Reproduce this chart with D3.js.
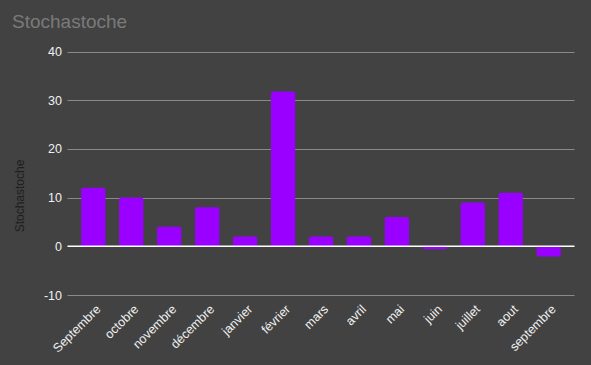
<!DOCTYPE html>
<meta charset="utf-8">
<style>
body { margin: 0; background: #424242; }
svg { display: block; font-family: Arial, "Liberation Sans", sans-serif; }
.axis path, .axis line { display: none; }
</style>
<svg width="591" height="365"></svg>
<script src="https://d3js.org/d3.v7.min.js"></script>
<script>

var months = ["Septembre", "octobre", "novembre", "décembre", "janvier", "février",
              "mars", "avril", "mai", "juin", "juillet", "aout", "septembre"];
var values = [12, 10, 4, 8, 2, 31.8, 2, 2, 6, -0.6, 9, 11, -2.1];
var yTicks = [-10, 0, 10, 20, 30, 40];

var svg = d3.select("svg");

svg.append("rect")
    .attr("width", 591).attr("height", 365)
    .attr("fill", "#424242");

var x = d3.scaleBand()
    .domain(months)
    .range([67.5, 574.5])
    .paddingInner(0.36)
    .paddingOuter(0.36);

var y = d3.scaleLinear()
    .domain([-10, 40])
    .range([295, 51.5]);

// title
svg.append("text")
    .attr("x", 12).attr("y", 28)
    .attr("fill", "#7a7a7a")
    .attr("font-size", 19)
    .text("Stochastoche");

// gridlines
svg.append("g").selectAll("line")
  .data(yTicks.filter(function(d) { return d !== 0; }))
  .enter().append("line")
    .attr("x1", 67.5).attr("x2", 574.5)
    .attr("y1", function(d) { return Math.round(y(d)) + 0.5; })
    .attr("y2", function(d) { return Math.round(y(d)) + 0.5; })
    .attr("stroke", "#8a8a8a")
    .attr("stroke-width", 1);

// y axis labels
var yAxis = svg.append("g")
    .attr("class", "axis axis--y")
    .attr("transform", "translate(67,0)")
    .call(d3.axisLeft(y).tickValues(yTicks).tickSize(0).tickPadding(5)
      .tickFormat(function(d) { return String(d); }));
yAxis.selectAll("text")
    .attr("fill", "#f0f0f0")
    .attr("font-size", 12.5)
    .attr("font-family", "Arial, 'Liberation Sans', sans-serif");

// y axis title
svg.append("text")
    .attr("transform", "translate(24," + 196 + ") rotate(-90)")
    .attr("text-anchor", "middle")
    .attr("fill", "#1e1e1e")
    .attr("font-size", 12)
    .text("Stochastoche");

// bars
svg.append("g").selectAll("path")
  .data(values)
  .enter().append("path")
    .attr("fill", "#9900ff")
    .attr("d", function(d, i) {
      var x0 = x(months[i]), w = x.bandwidth();
      var y0 = y(0), y1 = y(d);
      var top = Math.min(y0, y1), h = Math.abs(y1 - y0), r = Math.min(2, h / 2);
      var p = d3.path();
      p.moveTo(x0 + r, top);
      p.lineTo(x0 + w - r, top);
      p.quadraticCurveTo(x0 + w, top, x0 + w, top + r);
      p.lineTo(x0 + w, top + h - r);
      p.quadraticCurveTo(x0 + w, top + h, x0 + w - r, top + h);
      p.lineTo(x0 + r, top + h);
      p.quadraticCurveTo(x0, top + h, x0, top + h - r);
      p.lineTo(x0, top + r);
      p.quadraticCurveTo(x0, top, x0 + r, top);
      p.closePath();
      return p.toString();
    });

// zero line
svg.append("line")
    .attr("x1", 67.5).attr("x2", 574.5)
    .attr("y1", y(0)).attr("y2", y(0))
    .attr("stroke", "#ffffff")
    .attr("stroke-width", 1.5);

// x axis labels
var xAxis = svg.append("g")
    .attr("class", "axis axis--x")
    .attr("transform", "translate(0,300)")
    .call(d3.axisBottom(x).tickSize(0).tickPadding(0));
xAxis.selectAll("text")
    .attr("fill", "#f0f0f0")
    .attr("font-size", 12.5)
    .attr("font-family", "Arial, 'Liberation Sans', sans-serif")
    .attr("text-anchor", "end")
    .attr("dy", null)
    .attr("transform", "translate(8,10) rotate(-45)");

</script>
